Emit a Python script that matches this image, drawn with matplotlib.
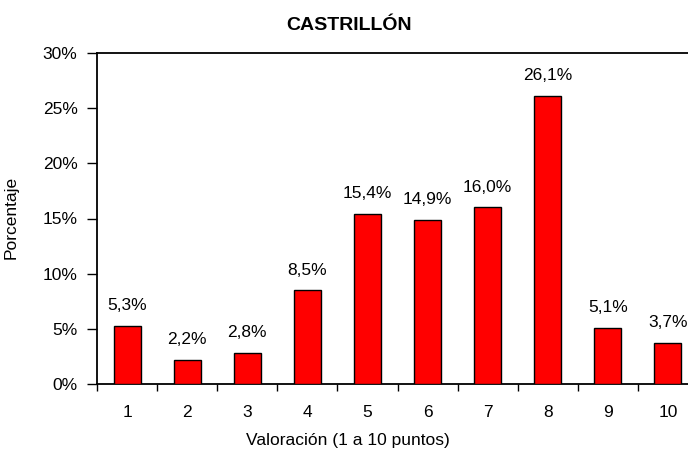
import matplotlib
matplotlib.use("Agg")
import matplotlib.pyplot as plt
import numpy as np

categories = ["1", "2", "3", "4", "5", "6", "7", "8", "9", "10"]
values = [5.3, 2.2, 2.8, 8.5, 15.4, 14.9, 16.0, 26.1, 5.1, 3.7]
yticks = [0, 5, 10, 15, 20, 25, 30]
title = "CASTRILLÓN"
xlabel = "Valoración (1 a 10 puntos)"
ylabel = "Porcentaje"

plt.rcParams['font.family'] = ['Liberation Sans', 'DejaVu Sans']
FS = 12.5

W, H = 688, 459
fig = plt.figure(figsize=(W / 100, H / 100), dpi=100)
left, right, top, bottom = 97, 698, 53, 384
ax = fig.add_axes([left / W, 1 - bottom / H, (right - left) / W, (bottom - top) / H])

x = np.arange(1, len(values) + 1)
ax.bar(x, values, width=0.45, color='#ff0000', edgecolor='black', linewidth=1.0, zorder=3)
for xi, v in zip(x, values):
    ax.text(xi, v + 1.15, f"{v:.1f}%".replace('.', ','), ha='center', va='bottom', fontsize=FS, clip_on=False)

ax.set_xlim(0.5, len(values) + 0.5)
ax.set_ylim(0, 30)
ax.set_yticks(yticks)
ax.set_yticklabels([f"{t}%" for t in yticks], fontsize=FS)
ax.set_xticks(x)
ax.set_xticklabels(categories, fontsize=FS)
ax.tick_params(axis='x', which='major', length=0, pad=15)
ax.set_xticks(np.arange(0.5, len(values) + 1.0, 1.0), minor=True)
ax.tick_params(axis='x', which='minor', length=5, direction='out', width=1)
ax.tick_params(axis='y', length=7, direction='out', width=1, pad=7)

for s in ['top', 'left', 'bottom']:
    ax.spines[s].set_linewidth(1.3)
ax.spines['right'].set_visible(False)

fig.text(349 / W, 1 - 25 / H, title, fontsize=14, fontweight='bold', ha='center', va='center')
fig.text(348 / W, 1 - 441 / H, xlabel, fontsize=FS, ha='center', va='center')
fig.text(11 / W, 1 - 217 / H, ylabel, fontsize=FS, ha='center', va='center', rotation=90)

fig.savefig("out.png", dpi=100)
